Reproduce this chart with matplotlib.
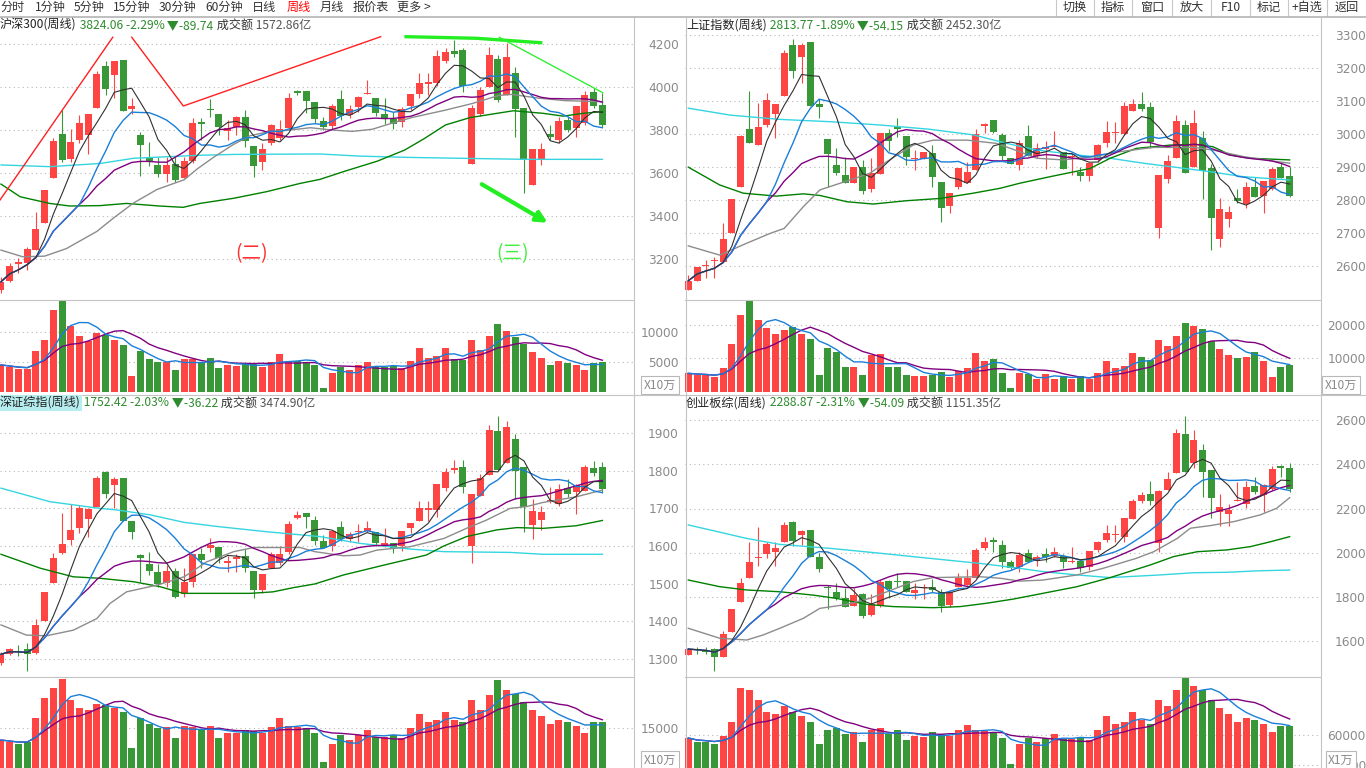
import numpy as np
import pandas as pd
import matplotlib
matplotlib.use("Agg")
import matplotlib.pyplot as plt

plt.rcParams['font.family'] = ['Noto Sans CJK SC', 'DejaVu Sans']

# ---------------- data: 70 weekly bars per index ----------------
# 沪深300
TL_OPEN = [3057, 3101, 3177, 3184, 3243, 3371, 3580, 3783, 3665, 3755, 3778, 3905, 4099, 4057, 4127, 3901, 3777, 3677, 3637, 3597,
           3643, 3580, 3657, 3838, 3899, 3876, 3798, 3817, 3860, 3729, 3651, 3739, 3763, 3809, 3983, 3983, 3930, 3845, 3822, 3944,
           3871, 3907, 3967, 3949, 3876, 3851, 3840, 3913, 3969, 4015, 4018, 4124, 4169, 4174, 3643, 3876, 4003, 4133, 3964, 4068,
           3902, 3546, 3662, 3783, 3755, 3848, 3812, 3835, 3976, 3918]
TL_CLOSE = [3096, 3169, 3189, 3248, 3341, 3522, 3750, 3662, 3747, 3832, 3876, 4062, 3991, 4122, 3891, 3913, 3732, 3654, 3597, 3637,
            3569, 3657, 3834, 3829, 3896, 3814, 3809, 3860, 3752, 3636, 3713, 3825, 3804, 3952, 3975, 3938, 3852, 3817, 3913, 3868,
            3899, 3956, 3975, 3882, 3851, 3829, 3901, 3969, 4022, 4026, 4146, 4163, 4155, 4008, 3905, 3987, 4150, 3941, 4142, 3901,
            3662, 3713, 3713, 3770, 3845, 3801, 3913, 3964, 3915, 3824]
TL_HIGH = [3119, 3181, 3205, 3259, 3422, 3522, 3763, 3894, 3804, 3871, 3876, 4077, 4122, 4122, 4127, 3949, 3794, 3744, 3677, 3677,
           3674, 3677, 3856, 3856, 3946, 3876, 3848, 3866, 3894, 3729, 3740, 3829, 3848, 3972, 3987, 3983, 3930, 3860, 3922, 3987,
           3918, 3961, 4034, 3949, 3949, 3887, 3907, 3969, 4068, 4068, 4173, 4181, 4220, 4181, 3918, 4003, 4186, 4150, 4208, 4096,
           3902, 3713, 3740, 3825, 3860, 3860, 3913, 3983, 3998, 3972]
TL_LOW = [3042, 3096, 3135, 3150, 3243, 3371, 3580, 3654, 3654, 3739, 3690, 3905, 3964, 3949, 3891, 3876, 3589, 3634, 3584, 3561,
          3561, 3576, 3646, 3755, 3860, 3778, 3755, 3778, 3724, 3581, 3615, 3732, 3755, 3801, 3964, 3882, 3832, 3801, 3806, 3848,
          3856, 3887, 3967, 3866, 3829, 3806, 3817, 3894, 3949, 3964, 4006, 4111, 4142, 3980, 3643, 3866, 4003, 3933, 3964, 3770,
          3507, 3546, 3639, 3755, 3740, 3794, 3770, 3825, 3905, 3817]
TL_VOL = [4500, 4160, 3765, 3765, 6860, 8710, 13770, 15290, 11070, 9390, 8600, 9950, 9500, 8710, 7870, 2640, 6860, 5510, 5000, 5000,
          3650, 5450, 5450, 5000, 5680, 3990, 4500, 4330, 4660, 4660, 4160, 5060, 6350, 5110, 5170, 5000, 4500, 620, 3150, 4160,
          3650, 4440, 5000, 4100, 4100, 4330, 3990, 5170, 7360, 5680, 5960, 7360, 5510, 5340, 8710, 7030, 9390, 11410, 10230, 9270,
          8090, 6740, 5680, 4500, 5170, 4830, 4500, 3650, 4830, 5000]

# 上证指数
TR_OPEN = [2527, 2555, 2600, 2615, 2613, 2701, 2841, 3016, 2967, 3028, 3060, 3116, 3271, 3235, 3279, 3092, 2985, 2906, 2876, 2853,
           2899, 2835, 2879, 3003, 3023, 2996, 2926, 2924, 2942, 2854, 2783, 2841, 2853, 2891, 3026, 3043, 2998, 2927, 2907, 2995,
           2934, 2956, 2960, 2947, 2930, 2886, 2874, 2922, 2972, 3003, 3001, 3071, 3092, 3084, 2716, 2863, 2927, 3028, 2901, 2990,
           2898, 2681, 2742, 2805, 2787, 2841, 2813, 2833, 2901, 2873]
TR_CLOSE = [2555, 2596, 2603, 2618, 2681, 2803, 2995, 2972, 3021, 3104, 3092, 3248, 3192, 3271, 3086, 3082, 2940, 2883, 2853, 2899,
            2828, 2881, 3003, 2980, 3016, 2932, 2929, 2945, 2871, 2777, 2823, 2898, 2886, 3000, 3030, 3008, 2934, 2909, 2972, 2934,
            2957, 2960, 2964, 2893, 2932, 2874, 2912, 2967, 3006, 3008, 3086, 3092, 3076, 2977, 2876, 2918, 3040, 2881, 3035, 2888,
            2747, 2773, 2765, 2798, 2841, 2810, 2859, 2894, 2868, 2813]
TR_HIGH = [2573, 2598, 2618, 2628, 2731, 2803, 2998, 3131, 3094, 3126, 3092, 3256, 3289, 3276, 3279, 3106, 2985, 2957, 2932, 2899,
           2922, 2927, 3003, 3015, 3048, 2996, 2952, 2947, 2967, 2854, 2823, 2898, 2916, 3016, 3033, 3043, 3004, 2927, 2982, 3028,
           2972, 2979, 3011, 2947, 2942, 2901, 2912, 2969, 3041, 3038, 3099, 3107, 3129, 3099, 2876, 2937, 3058, 3043, 3074, 3010,
           2911, 2805, 2783, 2833, 2854, 2871, 2859, 2901, 2914, 2901]
TR_LOW = [2527, 2555, 2562, 2562, 2613, 2701, 2841, 2972, 2967, 3021, 2990, 3116, 3170, 3154, 3086, 3048, 2841, 2876, 2853, 2853,
          2820, 2826, 2879, 2950, 2992, 2906, 2891, 2924, 2841, 2734, 2760, 2833, 2853, 2891, 3005, 3003, 2922, 2909, 2891, 2934,
          2927, 2893, 2960, 2893, 2876, 2859, 2859, 2917, 2960, 2974, 2998, 3071, 3071, 2957, 2686, 2853, 2927, 2881, 2901, 2802,
          2648, 2659, 2719, 2792, 2775, 2810, 2760, 2831, 2866, 2810]
TR_VOL = [5540, 5150, 4950, 4360, 7030, 14260, 22870, 27030, 21380, 19000, 17230, 18410, 19300, 17230, 15740, 5050, 13070, 11980, 7330, 7330,
          4950, 10990, 11290, 7520, 7330, 4950, 4650, 4650, 4950, 6040, 4360, 6240, 7030, 11680, 9310, 9700, 5540, 1290, 5740, 5250,
          3760, 5250, 3960, 4650, 3960, 4650, 3760, 5740, 9210, 7130, 7720, 11500, 10400, 9500, 15440, 13660, 16630, 20490, 19600, 18710,
          15250, 12770, 10990, 10000, 10400, 11880, 9210, 4360, 7330, 7920]

# 深证综指
BL_OPEN = [1288, 1312, 1320, 1325, 1314, 1400, 1501, 1582, 1616, 1649, 1672, 1705, 1796, 1762, 1782, 1667, 1576, 1552, 1532, 1502,
           1534, 1471, 1505, 1579, 1596, 1597, 1554, 1565, 1573, 1534, 1483, 1542, 1556, 1583, 1674, 1689, 1669, 1614, 1601, 1651,
           1618, 1636, 1640, 1638, 1603, 1609, 1600, 1647, 1667, 1697, 1696, 1754, 1802, 1811, 1601, 1734, 1789, 1907, 1820, 1885,
           1811, 1656, 1669, 1720, 1711, 1754, 1743, 1746, 1808, 1811]
BL_CLOSE = [1312, 1325, 1318, 1312, 1390, 1478, 1568, 1605, 1642, 1702, 1698, 1782, 1739, 1778, 1667, 1638, 1569, 1534, 1498, 1534,
            1465, 1503, 1580, 1563, 1603, 1567, 1561, 1572, 1541, 1482, 1526, 1579, 1579, 1659, 1683, 1678, 1614, 1596, 1640, 1618,
            1631, 1640, 1649, 1607, 1609, 1596, 1640, 1662, 1702, 1700, 1764, 1798, 1809, 1758, 1738, 1780, 1909, 1802, 1917, 1800,
            1705, 1693, 1690, 1722, 1751, 1738, 1762, 1811, 1795, 1752]
BL_HIGH = [1319, 1328, 1337, 1341, 1406, 1478, 1582, 1687, 1711, 1709, 1700, 1787, 1800, 1785, 1782, 1667, 1578, 1585, 1551, 1549,
           1542, 1541, 1580, 1594, 1622, 1597, 1574, 1578, 1592, 1534, 1526, 1585, 1601, 1667, 1693, 1689, 1681, 1629, 1643, 1667,
           1638, 1658, 1667, 1638, 1649, 1609, 1640, 1662, 1720, 1720, 1764, 1807, 1829, 1829, 1738, 1793, 1922, 1946, 1933, 1897,
           1811, 1725, 1707, 1758, 1764, 1778, 1764, 1816, 1826, 1823]
BL_LOW = [1283, 1310, 1306, 1267, 1312, 1400, 1501, 1580, 1603, 1634, 1625, 1705, 1727, 1700, 1667, 1620, 1503, 1523, 1492, 1492,
          1461, 1465, 1492, 1541, 1585, 1554, 1532, 1532, 1532, 1461, 1476, 1542, 1549, 1580, 1672, 1649, 1603, 1594, 1587, 1613,
          1612, 1612, 1636, 1601, 1598, 1581, 1587, 1634, 1667, 1667, 1678, 1747, 1794, 1742, 1554, 1734, 1789, 1802, 1820, 1725,
          1636, 1620, 1643, 1715, 1706, 1731, 1684, 1746, 1786, 1745]
BL_VOL = [12300, 11860, 11400, 11860, 17200, 21700, 24000, 26000, 21250, 19460, 19000, 20360, 20130, 19460, 18570, 10510, 17230, 15880, 15000, 15210,
          12750, 15440, 15210, 14770, 15440, 12750, 13870, 13870, 14540, 14320, 13870, 15210, 17230, 15440, 15210, 15000, 13870, 7380, 11410, 13420,
          12300, 13420, 14540, 12980, 12980, 13420, 12750, 15000, 18120, 16330, 16780, 18570, 16780, 16330, 21250, 19020, 22370, 25730, 23490, 22600,
          20800, 19020, 17670, 15880, 16780, 16330, 15440, 13870, 16330, 16330]

# 创业板综
BR_OPEN = [1538, 1565, 1562, 1565, 1531, 1641, 1776, 1888, 1978, 1993, 2005, 2050, 2141, 2080, 2103, 1983, 1847, 1825, 1794, 1761,
           1812, 1719, 1761, 1873, 1873, 1873, 1817, 1840, 1847, 1824, 1763, 1847, 1855, 1888, 2023, 2056, 2035, 1960, 1937, 1998,
           1964, 1993, 1987, 1987, 1957, 1963, 1937, 2013, 2058, 2079, 2073, 2153, 2234, 2266, 2043, 2284, 2359, 2535, 2404, 2465,
           2374, 2183, 2174, 2236, 2219, 2302, 2261, 2288, 2392, 2382]
BR_CLOSE = [1565, 1559, 1553, 1528, 1633, 1746, 1862, 1960, 1981, 2040, 2023, 2126, 2055, 2098, 1983, 1927, 1843, 1794, 1757, 1809,
            1716, 1767, 1867, 1836, 1870, 1824, 1832, 1847, 1832, 1761, 1824, 1888, 1888, 2013, 2050, 2050, 1960, 1933, 1990, 1960,
            1979, 1983, 2002, 1960, 1964, 1933, 2008, 2050, 2088, 2081, 2156, 2234, 2261, 2234, 2279, 2333, 2540, 2364, 2510, 2364,
            2246, 2206, 2193, 2240, 2299, 2273, 2306, 2379, 2385, 2288]
BR_HIGH = [1565, 1576, 1576, 1568, 1648, 1746, 1888, 2050, 2117, 2050, 2050, 2138, 2144, 2103, 2103, 1998, 1855, 1862, 1840, 1840,
           1817, 1814, 1877, 1877, 1907, 1873, 1862, 1858, 1882, 1836, 1832, 1907, 1927, 2020, 2070, 2070, 2058, 1968, 2005, 2017,
           1990, 2023, 2026, 1993, 2028, 1963, 2008, 2053, 2126, 2126, 2159, 2243, 2276, 2324, 2284, 2367, 2559, 2618, 2555, 2490,
           2374, 2266, 2219, 2318, 2324, 2341, 2309, 2392, 2397, 2404]
BR_LOW = [1538, 1541, 1541, 1466, 1531, 1641, 1776, 1888, 1942, 1975, 1942, 2047, 2032, 2035, 1983, 1912, 1745, 1787, 1754, 1761,
          1707, 1716, 1757, 1794, 1847, 1824, 1791, 1791, 1824, 1731, 1757, 1847, 1855, 1888, 2013, 2002, 1930, 1927, 1915, 1960,
          1942, 1960, 1983, 1933, 1953, 1912, 1922, 2002, 2050, 2050, 2050, 2153, 2224, 2216, 2002, 2284, 2359, 2364, 2382, 2254,
          2156, 2123, 2123, 2234, 2201, 2264, 2183, 2284, 2344, 2276]
BR_VOL = [57000, 53000, 53000, 51000, 59000, 73000, 107000, 105000, 95000, 83000, 81000, 89000, 83000, 79000, 73000, 51000, 65000, 67000, 61000, 63000,
          53000, 65000, 67000, 61000, 65000, 55000, 59000, 58000, 63000, 61000, 59000, 65000, 70000, 65000, 64000, 62000, 57000, 31000, 51000, 57000,
          53000, 57000, 61000, 56000, 56000, 58000, 55000, 65000, 79000, 71000, 73000, 83000, 75000, 71000, 95000, 89000, 105000, 117000, 109000, 105000,
          95000, 87000, 81000, 73000, 77000, 75000, 71000, 63000, 69000, 69000]

# long moving averages (bar index, value)
TL_GRAY_X = [0, 2.5, 5, 7.5, 11, 13, 15.2, 17.9, 21, 22.5, 24.4, 26.7, 28.6, 30.5, 32.8, 35.5, 37.8, 40.3, 42.6, 45, 47.2, 51, 54.1, 57.1, 58.6, 61.6, 64.7, 69]
TL_GRAY_Y = [3243, 3212, 3215, 3250, 3330, 3395, 3462, 3525, 3570, 3620, 3675, 3735, 3775, 3792, 3800, 3812, 3802, 3795, 3805, 3835, 3860, 3894, 3925, 3962, 3967, 3950, 3938, 3933]
TL_GREEN_X = [0, 2.2, 5.6, 7.9, 11.4, 14.4, 18.2, 20.9, 22.8, 26.7, 30.5, 34.3, 36.6, 39.3, 43.2, 46.3, 48.5, 51, 53.8, 56.9, 58.8, 62.2, 64.5, 66.8, 69]
TL_GREEN_Y = [3550, 3491, 3460, 3448, 3450, 3460, 3448, 3442, 3460, 3484, 3515, 3553, 3572, 3608, 3657, 3708, 3760, 3825, 3859, 3879, 3891, 3879, 3866, 3879, 3887]
TL_CYAN_X = [0, 5.6, 11.4, 15.2, 19, 22.8, 26.7, 36.6, 41.2, 46.9, 52.6, 60.3, 69]
TL_CYAN_Y = [3639, 3631, 3646, 3670, 3677, 3684, 3688, 3690, 3680, 3674, 3670, 3665, 3665]

TR_GRAY_X = [0, 3.6, 6.7, 9.4, 11, 13.2, 15.1, 17.4, 20.8, 22.8, 25.8, 28.1, 32, 35.4, 38, 40, 43, 46.5, 49.5, 53.4, 58, 60.2, 63.7, 67.5, 69]
TR_GRAY_Y = [2661, 2633, 2669, 2699, 2714, 2780, 2831, 2851, 2881, 2917, 2967, 2982, 2982, 2972, 2947, 2927, 2922, 2932, 2947, 2960, 2960, 2952, 2932, 2917, 2912]
TR_GREEN_X = [0, 3.6, 6.3, 10.1, 13.2, 15.1, 18.2, 21.2, 25, 28.9, 32.7, 35.8, 38, 41.5, 46.1, 48.4, 51.4, 55.3, 58.3, 60.2, 62.2, 64.5, 69]
TR_GREEN_Y = [2900, 2846, 2821, 2812, 2819, 2814, 2795, 2788, 2798, 2805, 2821, 2836, 2851, 2871, 2896, 2927, 2957, 2967, 2969, 2962, 2937, 2927, 2922]
TR_CYAN_X = [0, 4.8, 10.5, 16.3, 22, 27.7, 32.7, 36.9, 40, 44.6, 48.4, 52.2, 56.1, 59.9, 63.7, 69]
TR_CYAN_Y = [3079, 3058, 3045, 3038, 3028, 3015, 2998, 2970, 2952, 2937, 2927, 2912, 2899, 2886, 2871, 2861]

BL_GRAY_X = [0, 2.9, 5.2, 8.3, 11, 12.5, 14.4, 17.9, 21, 23.6, 26.7, 29, 34.3, 36, 39.3, 41.2, 43.1, 46.9, 50.8, 53.4, 55.7, 58.4, 60.3, 62.2, 66, 69]
BL_GRAY_Y = [1390, 1363, 1361, 1376, 1407, 1447, 1478, 1496, 1518, 1558, 1585, 1596, 1596, 1585, 1574, 1576, 1589, 1598, 1620, 1647, 1669, 1700, 1705, 1716, 1731, 1749]
BL_GREEN_X = [0, 4.5, 8.3, 11.4, 15.2, 18.2, 20.9, 28.6, 31.2, 33.5, 36, 39.3, 43.9, 48.8, 50.8, 53.4, 56.9, 59.2, 62.2, 66, 69]
BL_GREEN_Y = [1578, 1541, 1518, 1514, 1505, 1492, 1474, 1474, 1478, 1489, 1499, 1523, 1549, 1576, 1600, 1625, 1643, 1649, 1647, 1654, 1668]
BL_CYAN_X = [0, 5.6, 11.4, 13.3, 17.1, 21, 24.8, 30.5, 36.6, 41.2, 46.9, 50.8, 58.4, 62.2, 69]
BL_CYAN_Y = [1754, 1718, 1700, 1696, 1683, 1663, 1652, 1638, 1625, 1607, 1592, 1585, 1583, 1578, 1578]

BR_GRAY_X = [0, 3.6, 6.7, 8.6, 10.5, 13.2, 15.1, 18.2, 20.8, 22.8, 25.8, 28.1, 33.5, 35.8, 38, 40.7, 44.6, 47.6, 51.4, 53.4, 56.1, 57.6, 59.9, 62.6, 65.6, 67.5, 69]
BR_GRAY_Y = [1659, 1614, 1606, 1629, 1659, 1704, 1749, 1767, 1794, 1824, 1870, 1888, 1892, 1885, 1872, 1877, 1900, 1930, 1975, 2005, 2065, 2111, 2123, 2141, 2171, 2201, 2249]
BR_GREEN_X = [0, 3.6, 6.7, 10.5, 14.3, 17, 20.5, 23.5, 28.1, 31.2, 34.2, 37.3, 40.7, 44.6, 48.4, 53, 55.7, 58.4, 61.8, 64.5, 66.8, 69]
BR_GREEN_Y = [1877, 1847, 1832, 1824, 1809, 1794, 1767, 1757, 1752, 1757, 1772, 1791, 1817, 1847, 1888, 1945, 1983, 2005, 2013, 2028, 2050, 2073]
BR_CYAN_X = [0, 6.7, 10.5, 16.3, 22, 27.7, 33.5, 38, 40.7, 44.6, 48.4, 54.1, 58, 61.8, 65.6, 69]
BR_CYAN_Y = [2126, 2065, 2038, 2020, 1998, 1975, 1952, 1930, 1915, 1900, 1888, 1900, 1910, 1912, 1919, 1922]

TITLES = [
    ["沪深300(周线)", " 3824.06 -2.29%", " ▼-89.74", " 成交额", " 1572.86亿"],
    ["上证指数(周线)", " 2813.77 -1.89%", " ▼-54.15", " 成交额", " 2452.30亿"],
    ["深证综指(周线)", " 1752.42 -2.03%", " ▼-36.22", " 成交额", " 3474.90亿"],
    ["创业板综(周线)", " 2288.87 -2.31%", " ▼-54.09", " 成交额", " 1151.35亿"],
]
PRICE_TICKS = [[3200, 3400, 3600, 3800, 4000, 4200],
               [2600, 2700, 2800, 2900, 3000, 3100, 3200, 3300],
               [1300, 1400, 1500, 1600, 1700, 1800, 1900],
               [1600, 1800, 2000, 2200, 2400, 2600]]
VOL_TICKS = [[5000, 10000], [10000, 20000], [15000], [30000, 60000]]
VOL_UNITS = ["X10万", "X10万", "X10万", "X1万"]
TOOLBAR_LEFT = ["分时", "1分钟", "5分钟", "15分钟", "30分钟", "60分钟", "日线", "周线", "月线", "报价表", "更多 >"]
TOOLBAR_RIGHT = ["切换", "指标", "窗口", "放大", "F10", "标记", "+自选", "返回"]

# ---------------- style / layout ----------------
W, H = 1366, 768
RED = '#ff4444'
DOWN = '#389838'
TXT_GREEN = '#2e8b2e'
GRID = '#b8b8b8'
LABEL = '#8a8a8a'

fig = plt.figure(figsize=(W / 100, H / 100), dpi=100)
fig.patch.set_facecolor('white')


def px_axes(x0, y0, x1, y1):
    return fig.add_axes([x0 / W, 1 - y1 / H, (x1 - x0) / W, (y1 - y0) / H])


def style_axis(ax, xlim, ylim, ticks):
    ax.set_xlim(*xlim)
    ax.set_ylim(*ylim)
    ax.set_xticks([])
    ax.set_yticks(ticks)
    ax.set_yticklabels([str(t) for t in ticks], fontfamily='DejaVu Sans')
    ax.yaxis.tick_right()
    ax.tick_params(axis='y', length=0, pad=33, labelsize=8.7, labelcolor=LABEL)
    for lbl in ax.get_yticklabels():
        lbl.set_horizontalalignment('right')
    ax.grid(axis='y', color=GRID, linestyle=(0, (1, 3)), linewidth=0.8)
    ax.set_axisbelow(True)
    for s in ax.spines.values():
        s.set_visible(False)
    ax.patch.set_alpha(0)


def draw_candles(ax, o, c, h, l, min_body):
    o, c, h, l = (np.asarray(v, float) for v in (o, c, h, l))
    x = np.arange(len(o))
    col = np.where(c >= o, RED, DOWN)
    ax.vlines(x, l, h, colors=col, linewidth=0.8, zorder=2)
    body = np.maximum(np.abs(c - o), min_body)
    ax.bar(x, body, bottom=np.minimum(o, c), width=0.8, color=col, linewidth=0, zorder=3)
    return col


# (price box, volume box, xlim, price ylim, volume ylim) in screen pixels
LEFT_X = (-0.115, 72.51)
RIGHT_X = (-0.379, 72.48)
BOXES = [
    ((0, 33, 633, 299), (0, 300, 633, 393), LEFT_X, (3015.7, 4252.5), (-219, 15438)),
    ((685, 33, 1320, 299), (685, 300, 1320, 393), RIGHT_X, (2499.7, 3307.3), (-297, 27324)),
    ((0, 411, 633, 676), (0, 677, 633, 768), LEFT_X, (1254.0, 1959.4), (6045, 26420)),
    ((685, 411, 1320, 676), (685, 677, 1320, 768), RIGHT_X, (1443.4, 2640.7), (27000, 118000)),
]

PANELS = [
    (TL_OPEN, TL_CLOSE, TL_HIGH, TL_LOW, TL_VOL, (TL_GRAY_X, TL_GRAY_Y), (TL_GREEN_X, TL_GREEN_Y), (TL_CYAN_X, TL_CYAN_Y)),
    (TR_OPEN, TR_CLOSE, TR_HIGH, TR_LOW, TR_VOL, (TR_GRAY_X, TR_GRAY_Y), (TR_GREEN_X, TR_GREEN_Y), (TR_CYAN_X, TR_CYAN_Y)),
    (BL_OPEN, BL_CLOSE, BL_HIGH, BL_LOW, BL_VOL, (BL_GRAY_X, BL_GRAY_Y), (BL_GREEN_X, BL_GREEN_Y), (BL_CYAN_X, BL_CYAN_Y)),
    (BR_OPEN, BR_CLOSE, BR_HIGH, BR_LOW, BR_VOL, (BR_GRAY_X, BR_GRAY_Y), (BR_GREEN_X, BR_GREEN_Y), (BR_CYAN_X, BR_CYAN_Y)),
]

price_axes = []
for i, (o, c, h, l, vol, gray, green, cyan) in enumerate(PANELS):
    pbox, vbox, xlim, pylim, vylim = BOXES[i]
    ax = px_axes(*pbox)
    style_axis(ax, xlim, pylim, PRICE_TICKS[i])
    min_body = (pylim[1] - pylim[0]) / (pbox[3] - pbox[1])
    col = draw_candles(ax, o, c, h, l, min_body)
    x = np.arange(len(c))
    close = pd.Series(c, dtype=float)
    ax.plot(*cyan, color='#35d5e0', lw=1.0, zorder=4)
    ax.plot(*green, color='#008000', lw=1.0, zorder=4)
    ax.plot(*gray, color='#8c8c8c', lw=1.0, zorder=4)
    ax.plot(x, close.rolling(20, min_periods=1).mean(), color='#800080', lw=1.0, zorder=4)
    ax.plot(x, close.rolling(10, min_periods=1).mean(), color='#1a7fd9', lw=1.0, zorder=4)
    ax.plot(x, close.rolling(5, min_periods=1).mean(), color='#303030', lw=0.8, zorder=4)
    price_axes.append(ax)

    vax = px_axes(*vbox)
    style_axis(vax, xlim, vylim, VOL_TICKS[i])
    vax.bar(x, vol, width=0.8, color=col, linewidth=0, zorder=3)
    vs = pd.Series(vol, dtype=float)
    vax.plot(x, vs.rolling(10, min_periods=1).mean(), color='#800080', lw=1.0, zorder=4)
    vax.plot(x, vs.rolling(5, min_periods=1).mean(), color='#1a7fd9', lw=1.0, zorder=4)

# hand-drawn marks on 沪深300
ax = price_axes[0]
ax.plot([-0.115, 12.82], [3476, 4232.6], color='#ff2020', lw=1.0, zorder=5)
ax.plot([15.0, 20.92, 43.56], [4232.6, 3913, 4235.3], color='#ff2020', lw=1.0, zorder=5)
ax.plot([46.47, 54.5, 61.92], [4235.3, 4228, 4207.4], color='#22ee22', lw=2.4, zorder=5)
ax.plot([57.17, 69.03], [4232.6, 3975], color='#33ee33', lw=1.0, zorder=5)
ax.annotate('', xy=(62.99, 3364), xytext=(54.88, 3556),
            arrowprops=dict(arrowstyle='-|>', color='#22ee22', lw=3, mutation_scale=16), zorder=5)
ax.text(28.8, 3229, "(二)", color='#ff3030', fontsize=14, ha='center', va='center', zorder=5)
ax.text(58.74, 3229, "(三)", color='#44ee44', fontsize=14, ha='center', va='center', zorder=5)

# ---------------- overlay: toolbar, titles, frame ----------------
ov = fig.add_axes([0, 0, 1, 1], zorder=10)
ov.set_xlim(0, W)
ov.set_ylim(H, 0)
ov.axis('off')

left_pos = [0, 35, 74, 113, 159, 205, 252, 287, 320, 353, 397]
for s, xp in zip(TOOLBAR_LEFT, left_pos):
    ov.text(xp, 7.5, s, fontsize=8.7, va='center', ha='left',
            color='#ff0000' if s == "周线" else '#333333')
seps = [1055.7, 1094, 1132, 1172, 1211, 1250, 1288, 1327, 1366]
for k, s in enumerate(TOOLBAR_RIGHT):
    ov.text((seps[k] + seps[k + 1]) / 2, 7.5, s, fontsize=8.7, va='center', ha='center', color='#333333')
for xs in seps[:-1]:
    ov.plot([xs, xs], [0, 16], color='#c8c8c8', lw=0.8)
ov.plot([0, W], [16.5, 16.5], color='#b4b4b4', lw=1.2)

frame = '#c4c4c4'
for xs in (633.5, 685.5, 1320.5):
    ov.plot([xs, xs], [17, H], color=frame, lw=0.8)
for y0 in (299.5, 676.5):
    ov.plot([0, 633], [y0, y0], color=frame, lw=0.8)
    ov.plot([685, 1320], [y0, y0], color=frame, lw=0.8)
ov.plot([0, W], [394.5, 394.5], color=frame, lw=0.8)

title_pos = [(0, 25.5), (686, 25.5), (0, 403), (686, 403)]
for k, parts in enumerate(TITLES):
    colors = ['#222222', TXT_GREEN, TXT_GREEN, '#333333', '#555555']
    bbox = dict(boxstyle='square,pad=0.12', fc='#b6eef0', ec='none') if k == 2 else None
    t = ov.text(title_pos[k][0], title_pos[k][1], parts[0], color=colors[0], fontsize=8.7,
                va='center', ha='left', bbox=bbox)
    for s, cc in zip(parts[1:], colors[1:]):
        t = ov.annotate(s, xy=(1, 0.5), xycoords=t, color=cc, fontsize=8.7, va='center', ha='left')

unit_pos = [(660, 385), (1341, 385), (660, 760), (1341, 760)]
for (xu, yu), s in zip(unit_pos, VOL_UNITS):
    ov.text(xu, yu, s, fontsize=8.7, color=LABEL, ha='center', va='center',
            bbox=dict(boxstyle='square,pad=0.2', fc='white', ec='#b8b8b8', lw=0.8))

fig.savefig('out.png', dpi=100, facecolor='white')
